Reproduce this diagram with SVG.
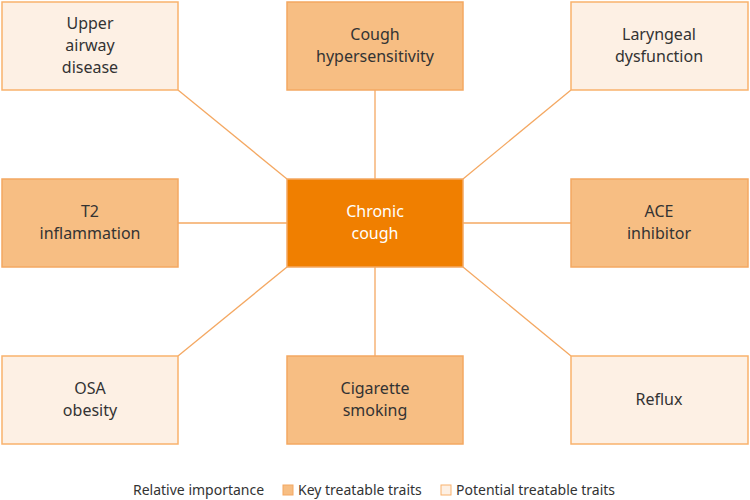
<svg xmlns="http://www.w3.org/2000/svg" width="750" height="500" viewBox="0 0 750 500">
<style>
text{font-family:"Noto Sans","Liberation Sans",sans-serif;font-size:16px;fill:#333;text-anchor:middle}
.pot{fill:#fdf0e4;stroke:#f9b26c;stroke-width:1.5}
.key{fill:#f7be83;stroke:#f4a862;stroke-width:1.5}
.ctr{fill:#f07f00;stroke:#f4a862;stroke-width:1.5}
.w{fill:#fff}
.lg{font-size:14px;text-anchor:start}
line{stroke:#f4a862;stroke-width:1.3}
</style>
<rect width="750" height="500" fill="#fff"/>
<g id="connectors">
<line x1="178" y1="90" x2="287" y2="179"/>
<line x1="375" y1="90" x2="375" y2="179"/>
<line x1="571" y1="90" x2="463" y2="179"/>
<line x1="178" y1="223" x2="287" y2="223"/>
<line x1="463" y1="223" x2="571" y2="223"/>
<line x1="178" y1="356" x2="287" y2="267"/>
<line x1="375" y1="267" x2="375" y2="356"/>
<line x1="571" y1="356" x2="463" y2="267"/>
</g>
<g id="upper-airway"><rect class="pot" x="2" y="2" width="176" height="88"/><text x="90" y="29">Upper</text><text x="90" y="51">airway</text><text x="90" y="73">disease</text></g>
<g id="cough-hyper"><rect class="key" x="287" y="2" width="176" height="88"/><text x="375" y="40">Cough</text><text x="375" y="62">hypersensitivity</text></g>
<g id="laryngeal"><rect class="pot" x="571" y="2" width="177" height="88"/><text x="659" y="40">Laryngeal</text><text x="659" y="62">dysfunction</text></g>
<g id="t2"><rect class="key" x="2" y="179" width="176" height="88"/><text x="90" y="217">T2</text><text x="90" y="239">inflammation</text></g>
<g id="chronic"><rect class="ctr" x="287" y="179" width="176" height="88"/><text class="w" x="375" y="217">Chronic</text><text class="w" x="375" y="239">cough</text></g>
<g id="ace"><rect class="key" x="571" y="179" width="177" height="88"/><text x="659" y="217">ACE</text><text x="659" y="239">inhibitor</text></g>
<g id="osa"><rect class="pot" x="2" y="356" width="176" height="88"/><text x="90" y="394">OSA</text><text x="90" y="416">obesity</text></g>
<g id="cigarette"><rect class="key" x="287" y="356" width="176" height="88"/><text x="375" y="394">Cigarette</text><text x="375" y="416">smoking</text></g>
<g id="reflux"><rect class="pot" x="571" y="356" width="177" height="88"/><text x="659" y="405">Reflux</text></g>
<g id="legend">
<text class="lg" x="133" y="495">Relative importance</text>
<rect x="283" y="485" width="10" height="10" fill="#f7be83" stroke="#f4a862"/>
<text class="lg" x="298" y="495">Key treatable traits</text>
<rect x="441" y="485" width="10" height="10" fill="#fdf0e4" stroke="#f9b26c"/>
<text class="lg" x="456" y="495">Potential treatable traits</text>
</g>
</svg>
